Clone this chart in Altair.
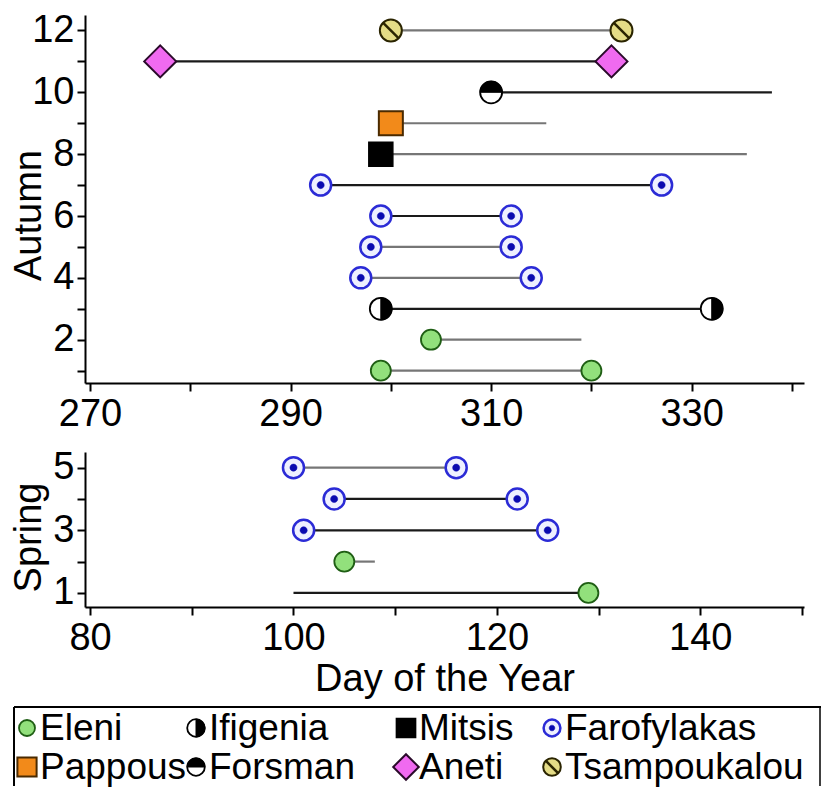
import altair as alt
import pandas as pd

# ---------------- data ----------------
series_names = ["Eleni", "Ifigenia", "Mitsis", "Farofylakas",
                "Pappous", "Forsman", "Aneti", "Tsampoukalou"]

autumn_rows = [1, 2, 3, 4, 5, 6, 7, 8, 9, 10, 11, 12]
autumn_series = ["Eleni", "Eleni", "Ifigenia", "Farofylakas", "Farofylakas",
                 "Farofylakas", "Farofylakas", "Mitsis", "Pappous", "Forsman",
                 "Aneti", "Tsampoukalou"]
autumn_start = [299, 304, 299, 297, 298, 299, 293, 299, 300, 310, 277, 300]
autumn_end = [320, 319, 332, 314, 312, 312, 327, 335.5, 315.5, 338, 322, 323]
autumn_markers = ["both", "start", "both", "both", "both", "both", "both",
                  "start", "start", "start", "both", "both"]
autumn_tone = ["gray", "gray", "black", "gray", "gray", "black", "black",
               "gray", "gray", "black", "black", "gray"]

spring_rows = [1, 2, 3, 4, 5]
spring_series = ["Eleni", "Eleni", "Farofylakas", "Farofylakas", "Farofylakas"]
spring_start = [100, 105, 101, 104, 100]
spring_end = [129, 108, 125, 122, 116]
spring_markers = ["end", "start", "both", "both", "both"]
spring_tone = ["black", "gray", "black", "black", "gray"]

autumn_ticks = [270, 280, 290, 300, 310, 320, 330, 340]
spring_ticks = [80, 90, 100, 110, 120, 130, 140, 150]

# ---------------- styles ----------------
CIRCLE = "M1,0A1,1,0,1,1,-1,0A1,1,0,1,1,1,0Z"
SQUARE = "M-1,-1L1,-1L1,1L-1,1Z"
DIAMOND = "M0,-1L1,0L0,1L-1,0Z"
RIGHT_HALF = "M0,-1A1,1,0,0,1,0,1Z"
TOP_HALF = "M-1,0A1,1,0,0,1,1,0Z"
DOT = "M0.34,0A0.34,0.34,0,1,1,-0.34,0A0.34,0.34,0,1,1,0.34,0Z"
SLASH = "M-0.72,-0.72L0.72,0.72"

base_style = {
    "Eleni": (CIRCLE, "#92e07c", "#1f5e14", 20, 1.8),
    "Ifigenia": (CIRCLE, "#ffffff", "#000000", 22, 1.8),
    "Mitsis": (SQUARE, "#000000", "#000000", 24, 1.5),
    "Farofylakas": (CIRCLE, "#eef0ff", "#2b2bd6", 21, 2.5),
    "Pappous": (SQUARE, "#f28a1a", "#4a2a00", 24, 2.0),
    "Forsman": (CIRCLE, "#ffffff", "#000000", 22, 1.8),
    "Aneti": (DIAMOND, "#f06af0", "#2a0a2a", 32, 2.0),
    "Tsampoukalou": (CIRCLE, "#e4dc86", "#2a2400", 22, 2.0),
}
over_style = {
    "Ifigenia": (RIGHT_HALF, "#000000", "#000000", 22, 1.0),
    "Forsman": (TOP_HALF, "#000000", "#000000", 22, 1.0),
    "Farofylakas": (DOT, "#0a0ab0", "#0a0ab0", 21, 0.5),
    "Tsampoukalou": (SLASH, "transparent", "#2a2400", 22, 2.5),
}

FONT = "Liberation Sans"


def marker_table(rows, series, start, end, markers, styles):
    recs = []
    for r, s, a, b, m in zip(rows, series, start, end, markers):
        days = []
        if m in ("both", "start"):
            days.append(a)
        if m in ("both", "end"):
            days.append(b)
        for d in days:
            if s in styles:
                sh, fi, st, dia, sw = styles[s]
                recs.append(dict(series=s, row=r, day=d, shape=sh, fill=fi,
                                 stroke=st, size=dia ** 2, sw=sw))
    return pd.DataFrame(recs, columns=["series", "row", "day", "shape", "fill",
                                       "stroke", "size", "sw"])


def point_layer(df, xenc, yenc):
    return alt.Chart(df).mark_point(filled=True, opacity=1).encode(
        x=xenc,
        y=yenc,
        shape=alt.Shape("shape:N", scale=None),
        fill=alt.Fill("fill:N", scale=None),
        stroke=alt.Stroke("stroke:N", scale=None),
        size=alt.Size("size:Q", scale=None),
        strokeWidth=alt.StrokeWidth("sw:Q", scale=None),
    )


def panel(rows, series, start, end, markers, tone, xdom, xticks, ydom,
          ylabel_cond, ytitle, title_y, xtitle, w, h):
    seg = pd.DataFrame({"row": rows, "start": start, "end": end, "tone": tone})
    first = xticks[0]
    xaxis = alt.Axis(values=xticks,
                     labelExpr=f"(datum.value - {first}) % 20 == 0 ? datum.label : ''",
                     title=xtitle if xtitle else None, titlePadding=3,
                     labelPadding=4)
    xscale = alt.Scale(domain=xdom, nice=False, zero=False)
    yenc = alt.Y("row:Q",
                 scale=alt.Scale(domain=ydom, nice=False, zero=False),
                 axis=alt.Axis(values=list(range(1, int(ydom[1]) + 1)),
                               labelExpr=f"{ylabel_cond} ? datum.label : ''",
                               title=ytitle, titleAngle=270, titleAlign="center",
                               titleBaseline="alphabetic", titleX=-45,
                               titleY=title_y, labelPadding=3))
    rules = alt.Chart(seg).mark_rule(strokeWidth=2.2).encode(
        x=alt.X("start:Q", scale=xscale, axis=xaxis),
        x2="end:Q",
        y=yenc,
        color=alt.Color("tone:N",
                        scale=alt.Scale(domain=["black", "gray"],
                                        range=["#1a1a1a", "#767676"]),
                        legend=None),
    )
    xpt = alt.X("day:Q", scale=xscale, axis=xaxis)
    base = marker_table(rows, series, start, end, markers, base_style)
    over = marker_table(rows, series, start, end, markers, over_style)
    return alt.layer(
        rules,
        point_layer(base, xpt, yenc),
        point_layer(over, xpt, yenc),
    ).properties(width=w, height=h)


top = panel(autumn_rows, autumn_series, autumn_start, autumn_end,
            autumn_markers, autumn_tone, [269.5, 341.2], autumn_ticks,
            [0.6, 12.5], "datum.value % 2 == 0", "Autumn", 200, None, 719, 368)

bottom = panel(spring_rows, spring_series, spring_start, spring_end,
               spring_markers, spring_tone, [79.5, 150.2], spring_ticks,
               [0.55, 5.5], "datum.value % 2 == 1", "Spring", 85,
               "Day of the Year", 719, 155)

# ---------------- legend (built as a small chart) ----------------
leg_rows = [i // 4 for i in range(len(series_names))]
leg_cols = [i % 4 for i in range(len(series_names))]
LEG_SCALE = 0.8


def legend_table(styles):
    recs = []
    for s, r, c in zip(series_names, leg_rows, leg_cols):
        if s in styles:
            sh, fi, st, dia, sw = styles[s]
            recs.append(dict(series=s, lrow=r, col=c, shape=sh, fill=fi,
                             stroke=st, size=(dia * LEG_SCALE) ** 2, sw=sw))
    return pd.DataFrame(recs)


LW, LH = 736, 110
BOX_TOP = 31
lx = alt.X("col:Q", scale=alt.Scale(domain=[0, 1, 2, 3],
                                    range=[-58, 111, 321, 467]), axis=None)
ly = alt.Y("lrow:Q", scale=alt.Scale(domain=[0, 1], range=[52, 91]), axis=None)


def legend_points(df):
    return alt.Chart(df).mark_point(filled=True, opacity=1).encode(
        x=lx, y=ly,
        shape=alt.Shape("shape:N", scale=None),
        fill=alt.Fill("fill:N", scale=None),
        stroke=alt.Stroke("stroke:N", scale=None),
        size=alt.Size("size:Q", scale=None),
        strokeWidth=alt.StrokeWidth("sw:Q", scale=None),
    )


leg_df = pd.DataFrame({"series": series_names, "lrow": leg_rows, "col": leg_cols})
leg_text = alt.Chart(leg_df).mark_text(
    align="left", baseline="middle", dx=13, dy=1, fontSize=37, font=FONT,
    color="black").encode(x=lx, y=ly, text="series:N")

frame_df = pd.DataFrame({"k": [0]})
frame_top = alt.Chart(frame_df).mark_rule(color="black", strokeWidth=2).encode(
    x=alt.value(-71), x2=alt.value(LW), y=alt.value(BOX_TOP))
frame_left = alt.Chart(frame_df).mark_rule(color="black", strokeWidth=2).encode(
    x=alt.value(-71), y=alt.value(BOX_TOP), y2=alt.value(LH))
frame_right = alt.Chart(frame_df).mark_rule(color="black", strokeWidth=1.5).encode(
    x=alt.value(LW - 1), y=alt.value(BOX_TOP), y2=alt.value(LH))

legend = alt.layer(
    frame_top, frame_left, frame_right,
    legend_points(legend_table(base_style)),
    legend_points(legend_table(over_style)),
    leg_text,
).properties(width=LW, height=LH)

chart = alt.vconcat(top, bottom, legend, spacing=69, bounds="flush").properties(
    padding={"left": 10, "top": 11, "right": 0, "bottom": 0}
).configure_view(stroke=None).configure_axis(
    domainColor="black", domainWidth=2, tickColor="black", tickWidth=2,
    tickSize=8, labelFont=FONT, labelFontSize=38, labelColor="black",
    titleFont=FONT, titleFontSize=38, titleFontWeight="normal",
    titleColor="black", grid=False, labelOverlap=False, labelFlush=False,
)

chart.save("out.html", embed_options={"renderer": "svg", "actions": False})
